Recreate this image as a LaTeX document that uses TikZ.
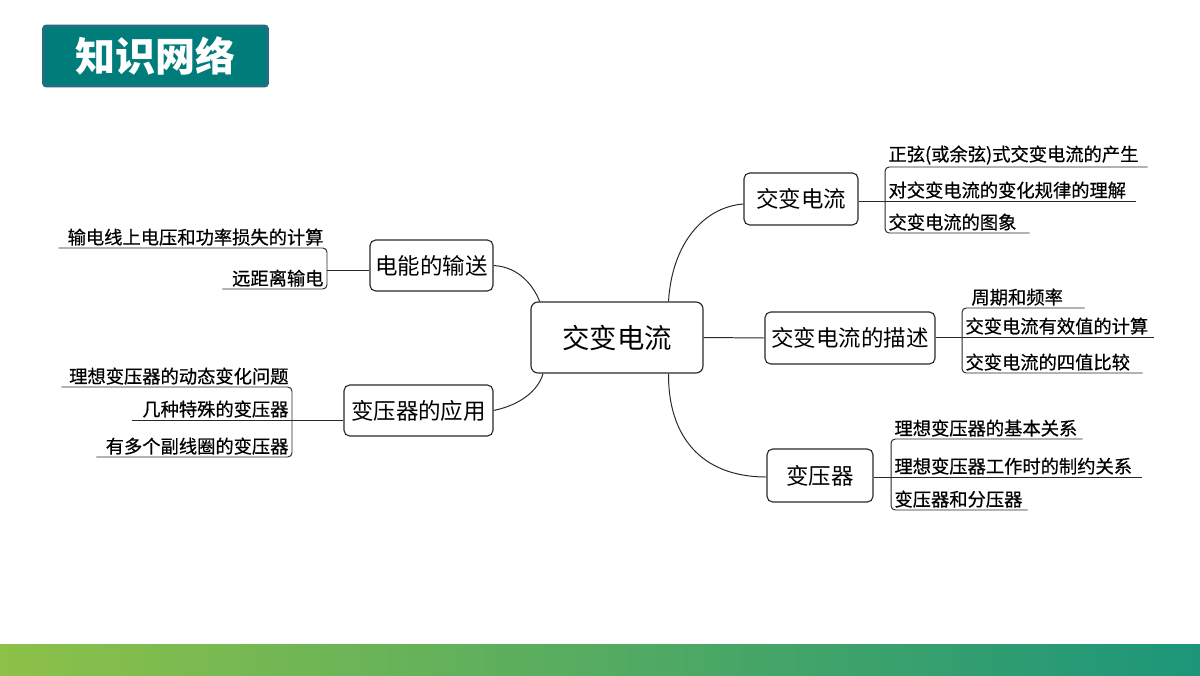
\documentclass[tikz,border=0pt]{standalone}
\usepackage{fontspec}
\setmainfont{Noto Sans CJK SC}
\newfontfamily\leaffont[FakeBold=0.6]{Noto Sans CJK SC}
\usetikzlibrary{positioning, calc}
\definecolor{titleteal}{RGB}{0, 125, 122}
\definecolor{titleedge}{RGB}{36, 108, 128}
\definecolor{barleft}{RGB}{141, 193, 72}
\definecolor{barright}{RGB}{28, 150, 122}
\definecolor{linegray}{RGB}{40, 40, 40}

\begin{document}
\begin{tikzpicture}[
  mainbox/.style={draw=linegray, line width=0.8pt, rounded corners=5pt, fill=white, font=\fontsize{19.5}{22}\selectfont, minimum width=4.3cm, minimum height=1.775cm, inner sep=2pt},
  topicbox/.style={draw=linegray, line width=0.8pt, rounded corners=4pt, font=\fontsize{16}{19}\selectfont, minimum height=1.3cm, inner sep=2pt},
  leafR/.style={anchor=south west, align=left, font=\leaffont\fontsize{13}{15}\selectfont, inner xsep=0.08cm, inner ysep=1.5pt},
  leafL/.style={anchor=south east, align=right, font=\leaffont\fontsize{13}{15}\selectfont, inner xsep=0.08cm, inner ysep=1.5pt},
  branch/.style={line width=0.7pt, draw=linegray},
  bracket/.style={line width=0.7pt, draw=linegray, rounded corners=3pt}
]
  \useasboundingbox (0, 0) rectangle (30, 16.875);

  % ===== Title and footer =====
  \node[fill=titleteal, draw=titleedge, line width=2pt, rounded corners=2pt, minimum width=5.6cm, minimum height=1.5cm, text=white, font=\fontsize{28.5}{32}\selectfont\bfseries] (title) at (3.8875, 15.475) {知识网络};
  \fill[left color=barleft, right color=barright] (0, 0) rectangle (30, 0.775);

  % ===== Centre =====
  \node[mainbox] (c) at (15.425, 8.4375) {交变电流};

  % ===== Topics =====
  \node[topicbox, minimum width=2.85cm] (b1) at (20.025, 11.9) {交变电流};
  \node[topicbox, minimum width=4.25cm] (b2) at (21.25, 8.425) {交变电流的描述};
  \node[topicbox, minimum width=2.65cm, minimum height=1.325cm] (b3) at (20.5, 4.9875) {变压器};
  \node[topicbox, minimum width=3.075cm, minimum height=1.275cm] (b4) at (10.7875, 10.2375) {电能的输送};
  \node[topicbox, minimum width=3.725cm, minimum height=1.275cm] (b5) at (10.4625, 6.6125) {变压器的应用};

  % Branches from the centre
  \draw[branch] (c.35) .. controls (16.8, 10.8) and (17.6, 11.7) .. (b1.west |- 0, 11.775);
  \draw[branch] (c.east) -- (b2.west);
  \draw[branch] (c.-35) .. controls (16.7, 6.0) and (17.5, 4.95) .. (b3.west |- 0, 4.95);
  \draw[branch] (b4.east) .. controls (13.0, 10.2) and (13.35, 9.7) .. (c.155);
  \draw[branch] (b5.east) .. controls (13.0, 6.75) and (13.45, 7.1) .. (c.206);

  % ===== Leaves, right =====
  \node[leafR, text width=6.39cm] (r11) at (22.125, 12.7) {正弦(或余弦)式交变电流的产生};
  \node[leafR, text width=6.09cm] (r12) at (22.125, 11.85) {对交变电流的变化规律的理解};
  \node[leafR, text width=3.44cm] (r13) at (22.125, 11.05) {交变电流的图象};
  \draw[bracket] (r11.south east) -- (r11.south west) -- (r13.south west) -- (r13.south east);
  \draw[branch] (b1.east |- r12.south west) -- (r12.south east);

  \node[leafR, text width=2.89cm] (r21) at (24.05, 9.175) {\hspace{0.15cm}周期和频率};
  \node[leafR, text width=4.615cm] (r22) at (24.05, 8.45) {交变电流有效值的计算};
  \node[leafR, text width=4.34cm] (r23) at (24.05, 7.55) {交变电流的四值比较};
  \draw[bracket] (r21.south east) -- (r21.south west) -- (r23.south west) -- (r23.south east);
  \draw[branch] (b2.east |- r22.south west) -- (r22.south east);

  \node[leafR, text width=4.615cm] (r31) at (22.275, 5.9) {理想变压器的基本关系};
  \node[leafR, text width=6.09cm] (r32) at (22.275, 4.95) {理想变压器工作时的制约关系};
  \node[leafR, text width=3.24cm] (r33) at (22.275, 4.125) {变压器和分压器};
  \draw[bracket] (r31.south east) -- (r31.south west) -- (r33.south west) -- (r33.south east);
  \draw[branch] (b3.east |- r32.south west) -- (r32.south east);

  % ===== Leaves, left =====
  \node[leafL, text width=6.54cm] (l11) at (8.175, 10.675) {输电线上电压和功率损失的计算};
  \node[leafL, text width=2.44cm] (l12) at (8.175, 9.65) {远距离输电};
  \draw[bracket] (l11.south west) -- (l11.south east) -- (l12.south east) -- (l12.south west);
  \draw[branch] ([yshift=-0.125cm]b4.west) -- ([yshift=-0.125cm]b4.west -| l12.south east);

  \node[leafL, text width=5.59cm] (l21) at (7.3, 7.2) {理想变压器的动态变化问题};
  \node[leafL, text width=3.815cm] (l22) at (7.3, 6.375) {几种特殊的变压器};
  \node[leafL, text width=4.715cm] (l23) at (7.3, 5.45) {有多个副线圈的变压器};
  \draw[bracket] (l21.south west) -- (l21.south east) -- (l23.south east) -- (l23.south west);
  \draw[branch] (l22.south west) -- (l22.south west -| b5.west);
\end{tikzpicture}
\end{document}
